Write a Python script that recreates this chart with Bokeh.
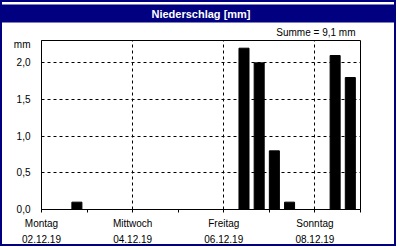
import pandas as pd
from bokeh.plotting import figure
from bokeh.models import FixedTicker, Title, ColumnDataSource, Range1d
from bokeh.embed import file_html
from bokeh.resources import INLINE

# data
bin_starts = ["2019-12-02 16:00", "2019-12-06 08:00", "2019-12-06 16:00",
              "2019-12-07 00:00", "2019-12-07 08:00", "2019-12-08 08:00",
              "2019-12-08 16:00"]
rain_mm = [0.1, 2.2, 2.0, 0.8, 0.1, 2.1, 1.8]
start_day = "2019-12-02 00:00"
n_days = 7
day_labels = {0: "Montag\n02.12.19", 2: "Mittwoch\n04.12.19",
              4: "Freitag\n06.12.19", 6: "Sonntag\n08.12.19"}
y_ticks = [0.0, 0.5, 1.0, 1.5, 2.0]
y_labels = ["0,0", "0,5", "1,0", "1,5", "2,0"]
unit_label = "mm"
title_text = "Niederschlag [mm]"
sum_text = "Summe = 9,1 mm"

NAVY = "#000080"
FONT = "Liberation Sans"

t0 = pd.Timestamp(start_day)
x_days = [(pd.Timestamp(s) - t0) / pd.Timedelta(days=1) for s in bin_starts]
bar_w = 0.22
src = ColumnDataSource(dict(left=x_days, right=[x + bar_w for x in x_days],
                            top=rain_mm, bottom=[0] * len(rain_mm)))

p = figure(width=396, height=246, output_backend="svg", toolbar_location=None,
           x_range=Range1d(0, n_days), y_range=Range1d(0, 2.305),
           min_border_left=39, min_border_right=38, min_border_top=10,
           min_border_bottom=38, title=None)
p.styles = {"border": f"2px solid {NAVY}"}
p.background_fill_color = "white"
p.border_fill_color = "white"
p.outline_line_color = "black"
p.outline_line_width = 1

p.quad(left="left", right="right", top="top", bottom="bottom", source=src,
       fill_color="black", line_color="black")

# titles
sub = Title(text=sum_text, align="right", text_font=FONT, text_font_size="10px",
            text_font_style="normal", text_color="black", standoff=1, offset=5,
            padding=(0, 2))
p.add_layout(sub, "above")
main = Title(text=title_text, align="center", text_font=FONT, text_font_size="11px",
             text_font_style="bold", text_color="white",
             background_fill_color=NAVY, padding=(200, 3), standoff=0)
p.add_layout(main, "above")

# x axis
xa = p.xaxis[0]
xa.ticker = FixedTicker(ticks=list(range(n_days + 1)))
xa.major_label_overrides = {d: day_labels.get(d, "") for d in range(n_days + 1)}
xa.major_tick_out = 3
xa.major_tick_in = 0
xa.minor_tick_line_color = None
xa.axis_line_color = "black"
xa.major_label_text_font = FONT
xa.major_label_text_font_size = "10px"
xa.major_label_text_color = "black"
xa.major_label_standoff = 5
xa.major_label_text_line_height = 1.5

# y axis
ya = p.yaxis[0]
ya.ticker = FixedTicker(ticks=y_ticks + [2.25])
ov = {t: l for t, l in zip(y_ticks, y_labels)}
ov[2.25] = unit_label
ya.major_label_overrides = ov
ya.major_tick_line_color = None
ya.minor_tick_line_color = None
ya.major_label_text_font = FONT
ya.major_label_text_font_size = "10px"
ya.major_label_text_color = "black"
ya.major_label_standoff = 5

# grids
p.xgrid.ticker = FixedTicker(ticks=[2, 4, 6])
p.ygrid.ticker = FixedTicker(ticks=[0.5, 1.0, 1.5, 2.0])
for g in (p.xgrid[0], p.ygrid[0]):
    g.grid_line_color = "black"
    g.grid_line_dash = "3 3"
    g.grid_line_width = 1

open("out.html", "w").write(file_html(p, INLINE))
